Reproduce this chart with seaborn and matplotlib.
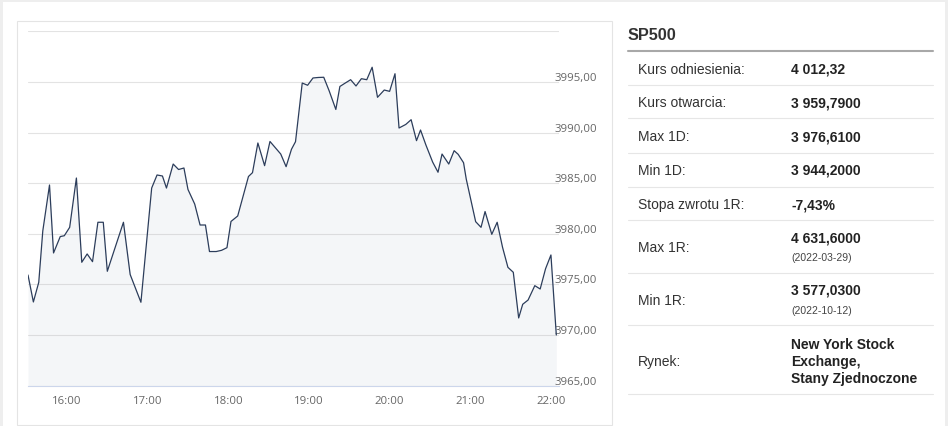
import pandas as pd
import numpy as np
import matplotlib
matplotlib.use('Agg')
import matplotlib.pyplot as plt
import matplotlib.dates as mdates
from matplotlib.ticker import FuncFormatter
from matplotlib.transforms import ScaledTranslation
from matplotlib.lines import Line2D
from matplotlib.patches import Rectangle
import seaborn as sns

# intraday quotes
times = ['15:31', '15:35', '15:39', '15:42', '15:47', '15:50', '15:55', '15:58',
         '16:02', '16:07', '16:11', '16:15', '16:19', '16:23', '16:27', '16:30',
         '16:42', '16:47', '16:55', '17:03', '17:07', '17:11', '17:14', '17:19',
         '17:23', '17:27', '17:30', '17:35', '17:39', '17:43', '17:46', '17:51',
         '17:55', '17:59', '18:02', '18:07', '18:15', '18:18', '18:22', '18:27',
         '18:31', '18:39', '18:43', '18:47', '18:50', '18:55', '18:59', '19:03',
         '19:07', '19:11', '19:15', '19:20', '19:23', '19:27', '19:31', '19:35',
         '19:39', '19:43', '19:47', '19:51', '19:56', '20:00', '20:04', '20:07',
         '20:12', '20:16', '20:20', '20:23', '20:27', '20:32', '20:36', '20:39',
         '20:44', '20:48', '20:51', '20:55', '20:57', '21:04', '21:08', '21:11',
         '21:16', '21:20', '21:24', '21:28', '21:32', '21:36', '21:39', '21:43',
         '21:48', '21:52', '21:56', '22:00', '22:04']
prices = [3975.93, 3973.27, 3975.21, 3980.28, 3984.82, 3978.11, 3979.73, 3979.81,
          3980.64, 3985.51, 3977.19, 3978.01, 3977.25, 3981.14, 3981.14, 3976.30,
          3981.14, 3975.98, 3973.24, 3984.52, 3985.81, 3985.71, 3984.52, 3986.89,
          3986.35, 3986.50, 3984.38, 3982.94, 3980.87, 3980.87, 3978.25, 3978.25,
          3978.37, 3978.63, 3981.22, 3981.76, 3985.66, 3986.04, 3988.97, 3986.73,
          3989.12, 3987.88, 3986.63, 3988.35, 3989.10, 3994.89, 3994.67, 3995.39,
          3995.44, 3995.46, 3994.13, 3992.28, 3994.55, 3994.89, 3995.22, 3994.60,
          3995.32, 3995.22, 3996.45, 3993.48, 3994.20, 3994.07, 3995.81, 3990.45,
          3990.80, 3991.27, 3989.20, 3990.25, 3988.77, 3987.09, 3986.08, 3987.88,
          3986.89, 3988.21, 3987.85, 3987.02, 3985.41, 3981.20, 3980.64, 3982.20,
          3979.95, 3981.14, 3978.67, 3976.69, 3976.20, 3971.69, 3973.04, 3973.46,
          3974.88, 3974.55, 3976.55, 3977.91, 3970.01]

y_ticks = [3965, 3970, 3975, 3980, 3985, 3990, 3995, 4000]
x_ticks = ['16:00', '17:00', '18:00', '19:00', '20:00', '21:00', '22:00']
x_end = '22:06'

# side table
title = 'SP500'
row_labels = ['Kurs odniesienia:', 'Kurs otwarcia:', 'Max 1D:', 'Min 1D:',
              'Stopa zwrotu 1R:', 'Max 1R:', 'Min 1R:', 'Rynek:']
row_values = ['4 012,32', '3 959,7900', '3 976,6100', '3 944,2000', '-7,43%',
              '4 631,6000', '3 577,0300', 'New York Stock\nExchange,\nStany Zjednoczone']
row_dates = ['', '', '', '', '', '(2022-03-29)', '(2022-10-12)', '']

day = '2022-12-15 '
df = pd.DataFrame({'time': pd.to_datetime([day + t for t in times]), 'price': prices})

sns.set_style('white')
plt.rcParams['font.family'] = ['Liberation Sans', 'DejaVu Sans']

W, H = 948, 427
fig = plt.figure(figsize=(W / 100, H / 100), dpi=100, facecolor='#eeeeee')


def px(x, y):
    return x / W, 1 - y / H


# white panel and the chart card
fig.patches.append(Rectangle(px(3, 427), 942 / W, 424 / H, transform=fig.transFigure,
                             facecolor='white', edgecolor='none', zorder=-3))
fig.patches.append(Rectangle(px(16.5, 426), 595.5 / W, 404 / H, transform=fig.transFigure,
                             facecolor='white', edgecolor='#e4e4e4', lw=0.8, zorder=-2))

left, top, right, bottom = 28, 32.3, 559, 386.7
ax = fig.add_axes([left / W, 1 - bottom / H, (right - left) / W, (bottom - top) / H])
ax.set_zorder(2)
ax.set_facecolor('none')

sns.lineplot(data=df, x='time', y='price', ax=ax, color='#2c3d5b', lw=0.9, zorder=3)
ax.fill_between(df['time'], df['price'], 3965, color='#7f8fa6', alpha=0.08,
                lw=0, zorder=2)

ax.set_xlim(df['time'].iloc[0], pd.to_datetime(day + x_end))
ax.set_ylim(y_ticks[0], y_ticks[-1])
ax.set_xlabel('')
ax.set_ylabel('')

for s in ['top', 'left', 'right']:
    ax.spines[s].set_visible(False)
ax.spines['bottom'].set_color('#ccd6eb')
ax.spines['bottom'].set_linewidth(0.8)

ax.set_xticks(pd.to_datetime([day + t for t in x_ticks]))
ax.xaxis.set_major_formatter(mdates.DateFormatter('%H:%M'))
ax.tick_params(axis='x', colors='#ccd6eb', length=5, width=0.8, pad=2,
               labelcolor='#666666', labelsize=8.2)

ax.yaxis.tick_right()
ax.set_yticks(y_ticks)
ax.yaxis.set_major_formatter(FuncFormatter(
    lambda v, p: '' if v >= 4000 else f'{v:.2f}'.replace('.', ',')))
ax.tick_params(axis='y', length=0, pad=-3, labelcolor='#666666', labelsize=8.2)
ax.grid(axis='y', color='#e3e3e3', lw=0.8, zorder=0)
ax.set_axisbelow(True)

shift = ScaledTranslation(0, 6 / 100, fig.dpi_scale_trans)
for lab in ax.get_yticklabels():
    lab.set_transform(lab.get_transform() + shift)
for lab in ax.get_xticklabels() + ax.get_yticklabels():
    lab.set_family(['Open Sans', 'DejaVu Sans'])

# table on the right
tx0, tx1 = 628, 933
fig.text(*px(tx0, 35), title, fontsize=11.7, fontweight='bold', color='#333333',
         va='center', ha='left')
fig.add_artist(Line2D([tx0 / W, tx1 / W], [1 - 51.5 / H] * 2, color='#a8a8a8', lw=1.5))

sep_y = [85.7, 119.3, 153.7, 187.7, 221.3, 274.3, 326.3, 395.3]
label_y = [70, 103.3, 137, 171, 205.3, 247.7, 301, 362.3]
value_y = [70, 103.3, 137, 171, 205.3, 239, 291, 362]
date_y = [0, 0, 0, 0, 0, 258.3, 310.7, 0]

for i, lab in enumerate(row_labels):
    fig.text(*px(637.7, label_y[i]), lab, fontsize=10, color='#333333', va='center')
    fig.text(*px(791, value_y[i]), row_values[i], fontsize=10, fontweight='bold',
             color='#222222', va='center', linespacing=1.25)
    if row_dates[i]:
        fig.text(*px(791, date_y[i]), row_dates[i], fontsize=7.5, color='#444444',
                 va='center')
    fig.add_artist(Line2D([tx0 / W, tx1 / W], [1 - sep_y[i] / H] * 2,
                          color='#e6e6e6', lw=0.8))

fig.savefig('out.png', dpi=100, facecolor=fig.get_facecolor())
